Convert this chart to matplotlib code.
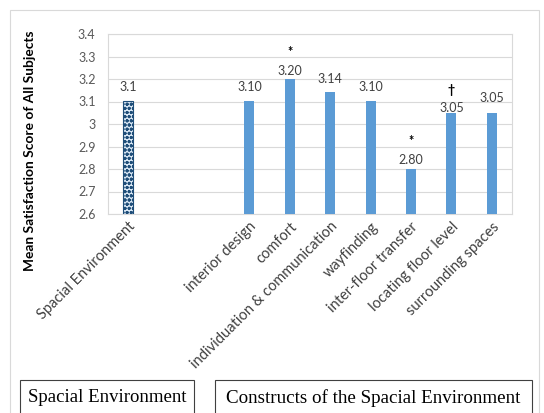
import numpy as np
import matplotlib
matplotlib.use('Agg')
import matplotlib.pyplot as plt
from matplotlib.patches import Rectangle

# ---------------------------------------------------------------------------------------------------------------------
# DATA
# ---------------------------------------------------------------------------------------------------------------------
CATEGORIES = ['Spacial Environment', '', '', 'interior design', 'comfort', 'individuation & communication',
              'wayfinding', 'inter-floor transfer', 'locating floor level', 'surrounding spaces']
SCORES = [3.1, None, None, 3.10, 3.20, 3.14, 3.10, 2.80, 3.05, 3.05]
VALUE_LABELS = ['3.1', '', '', '3.10', '3.20', '3.14', '3.10', '2.80', '3.05', '3.05']
SIG_MARKS = ['', '', '', '', '*', '', '', '*', '\u2020', '']
Y_TICKS = [2.6, 2.7, 2.8, 2.9, 3.0, 3.1, 3.2, 3.3, 3.4]
Y_TICK_LABELS = ['2.6', '2.7', '2.8', '2.9', '3', '3.1', '3.2', '3.3', '3.4']
GROUP_LABELS = ['Spacial Environment', 'Constructs of the Spacial Environment']

# label placement above each bar (data units, hand-tuned like the original layout)
LABEL_OFFSETS = [0.064, 0, 0, 0.064, 0.036, 0.06, 0.064, 0.04, 0.021, 0.066]
MARK_OFFSETS = [0, 0, 0, 0, 0.12, 0, 0, 0.125, 0.10, 0]

BAR_BLUE = '#5b9bd5'
DARK_BLUE = '#1f4e79'
GRID_GRAY = '#d9d9d9'
TEXT_GRAY = '#595959'
SANS = ['Lato', 'DejaVu Sans']

# ---------------------------------------------------------------------------------------------------------------------
# PLOT
# ---------------------------------------------------------------------------------------------------------------------
fig = plt.figure(figsize=(5.44, 4.13), dpi=100)
W, H = 544, 413

# outer chart frame
fig.add_artist(Rectangle((10 / W, -0.05), 529 / W, (H - 10) / H + 0.05, transform=fig.transFigure,
                         fill=False, edgecolor='#d9d9d9', linewidth=0.8))

ax = fig.add_axes([108 / W, 1 - 214 / H, (512 - 108) / W, (214 - 34) / H])
x = np.arange(len(CATEGORIES))
y_min = Y_TICKS[0]

for i, val in enumerate(SCORES):
    if val is None:
        continue
    if i == 0:
        ax.bar(x[i], val - y_min, bottom=y_min, width=0.25, color='#dbe9f6', edgecolor=DARK_BLUE,
               hatch='oooo', linewidth=0.8, zorder=3)
    else:
        ax.bar(x[i], val - y_min, bottom=y_min, width=0.25, color=BAR_BLUE, zorder=3)
    # value label and significance mark above the bar
    ax.text(x[i], val + LABEL_OFFSETS[i], VALUE_LABELS[i], ha='center', va='center', fontsize=9,
            color='#404040', family=SANS)
    if SIG_MARKS[i]:
        ax.text(x[i], val + MARK_OFFSETS[i], SIG_MARKS[i], ha='center', va='center', fontsize=9,
                color='black', family=SANS, fontweight='bold')

ax.set_xlim(-0.5, len(CATEGORIES) - 0.5)
ax.set_ylim(Y_TICKS[0], Y_TICKS[-1])
ax.set_yticks(Y_TICKS)
ax.set_yticklabels(Y_TICK_LABELS, family=SANS, fontsize=9, color=TEXT_GRAY)
ax.set_xticks(x)
ax.set_xticklabels(CATEGORIES, rotation=45, ha='right', rotation_mode='anchor',
                   family=SANS, fontsize=10.5, color='#404040')
ax.tick_params(axis='y', length=0, pad=9)
ax.tick_params(axis='x', length=0, pad=4)
ax.grid(axis='y', color=GRID_GRAY, linewidth=0.8, zorder=0)
for spine in ax.spines.values():
    spine.set_color(GRID_GRAY)
    spine.set_linewidth(0.8)

fig.text(30 / W, 1 - 151 / H, 'Mean Satisfaction Score of All Subjects', rotation=90, ha='center',
         va='center', fontsize=9.9, fontweight='bold', family=SANS)

# group caption boxes along the bottom
fig.add_artist(Rectangle((20 / W, -0.05), (194 - 20) / W, (H - 380) / H + 0.05, transform=fig.transFigure,
                         fill=False, edgecolor='#404040', linewidth=0.8))
fig.add_artist(Rectangle((215 / W, -0.05), (532 - 215) / W, (H - 380) / H + 0.05, transform=fig.transFigure,
                         fill=False, edgecolor='#404040', linewidth=0.8))
fig.text(107 / W, 1 - 398 / H, GROUP_LABELS[0], ha='center', va='center', fontsize=13.5,
         family='Liberation Serif')
fig.text(373 / W, 1 - 398 / H, GROUP_LABELS[1], ha='center', va='center', fontsize=13.7,
         family='Liberation Serif')

fig.savefig('out.png', dpi=100)
